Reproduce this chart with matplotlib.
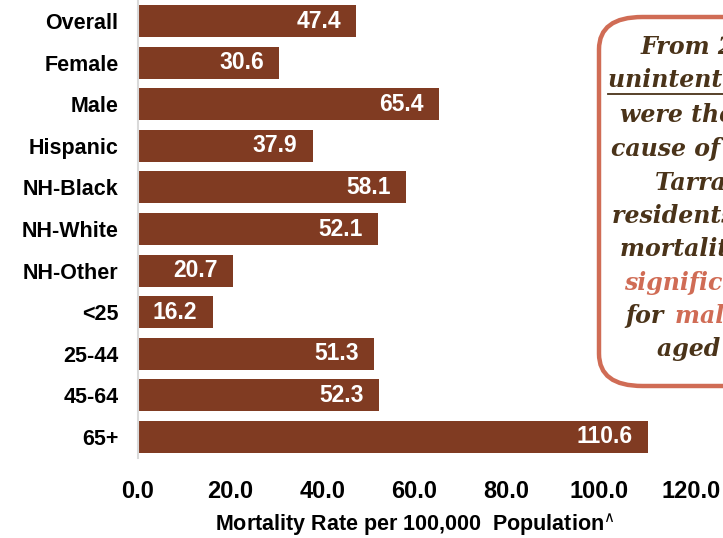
import numpy as np
import matplotlib as mpl
mpl.use('Agg')
import matplotlib.pyplot as plt
from matplotlib.patches import FancyBboxPatch

# unintentional injury mortality, rate per 100,000
groups = ['Overall', 'Female', 'Male', 'Hispanic', 'NH-Black', 'NH-White',
          'NH-Other', '<25', '25-44', '45-64', '65+']
rates = [47.4, 30.6, 65.4, 37.9, 58.1, 52.1, 20.7, 16.2, 51.3, 52.3, 110.6]
xticks = [0, 20, 40, 60, 80, 100, 120]

bar_color = '#803B22'
dark = '#4A3319'
salmon = '#D06C55'

plt.rcParams['font.family'] = ['Liberation Sans', 'DejaVu Sans']

fig = plt.figure(figsize=(7.23, 5.38), dpi=100)
ax = fig.add_axes([138/723, 80/538, 553/723, 458/538])

pos = np.arange(len(groups))
ax.barh(pos, rates, height=0.77, color=bar_color)
for y, v in zip(pos, rates):
    ax.annotate('%.1f' % v, (v, y), xytext=(-11, 0), textcoords='offset points',
                ha='right', va='center', color='white', fontsize=16.5,
                fontweight='bold')

ax.set_xlim(0, 120)
ax.set_ylim(len(groups) - 0.495, -0.505)
ax.set_yticks(pos)
ax.set_yticklabels(groups, fontsize=15.5, fontweight='bold')
ax.set_xticks(xticks)
ax.set_xticklabels(['%.1f' % t for t in xticks], fontsize=17, fontweight='bold')
ax.tick_params(axis='both', length=0)
ax.tick_params(axis='y', pad=14)
ax.tick_params(axis='x', pad=16)
ax.set_xlabel('Mortality Rate per 100,000  Population$^{\\wedge}$', fontsize=15.5,
              fontweight='bold', labelpad=6)
for s in ['top', 'right', 'bottom']:
    ax.spines[s].set_visible(False)
ax.spines['left'].set_color('#d9d9d9')
ax.spines['left'].set_linewidth(1.5)

# callout box on the right, running off the edge
W, H = 723.0, 538.0
box = FancyBboxPatch((599/W, (H-386)/H), 220/W, 369/H,
                     boxstyle='round,pad=0,rounding_size=0.06',
                     transform=fig.transFigure, facecolor='white',
                     edgecolor=salmon, linewidth=3.2, clip_on=False)
fig.patches.append(box)

serif = dict(family='DejaVu Serif', fontweight='bold', style='italic',
             fontsize=17, va='center', ha='left')
lines = [
    (641, 46, 'From 2011-2015,', dark),
    (608, 80, 'unintentional injuries', dark),
    (620, 115, 'were the 5th leading', dark),
    (611, 149, 'cause of death for', dark),
    (655, 183, 'Tarrant County', dark),
    (612, 216, 'residents. The', dark),
    (620, 249, 'mortality rate was', dark),
    (624, 283, 'significantly higher', salmon),
    (625, 316, 'for', dark),
    (675, 316, 'males and those', salmon),
    (657, 349, 'aged 65+.', dark),
]
for x, y, s, c in lines:
    fig.text(x/W, (H-y)/H, s, color=c, **serif)
fig.add_artist(plt.Line2D([608/W, 760/W], [(H-94)/H]*2, color=dark, lw=1.3))

fig.savefig('out.png', dpi=100)
